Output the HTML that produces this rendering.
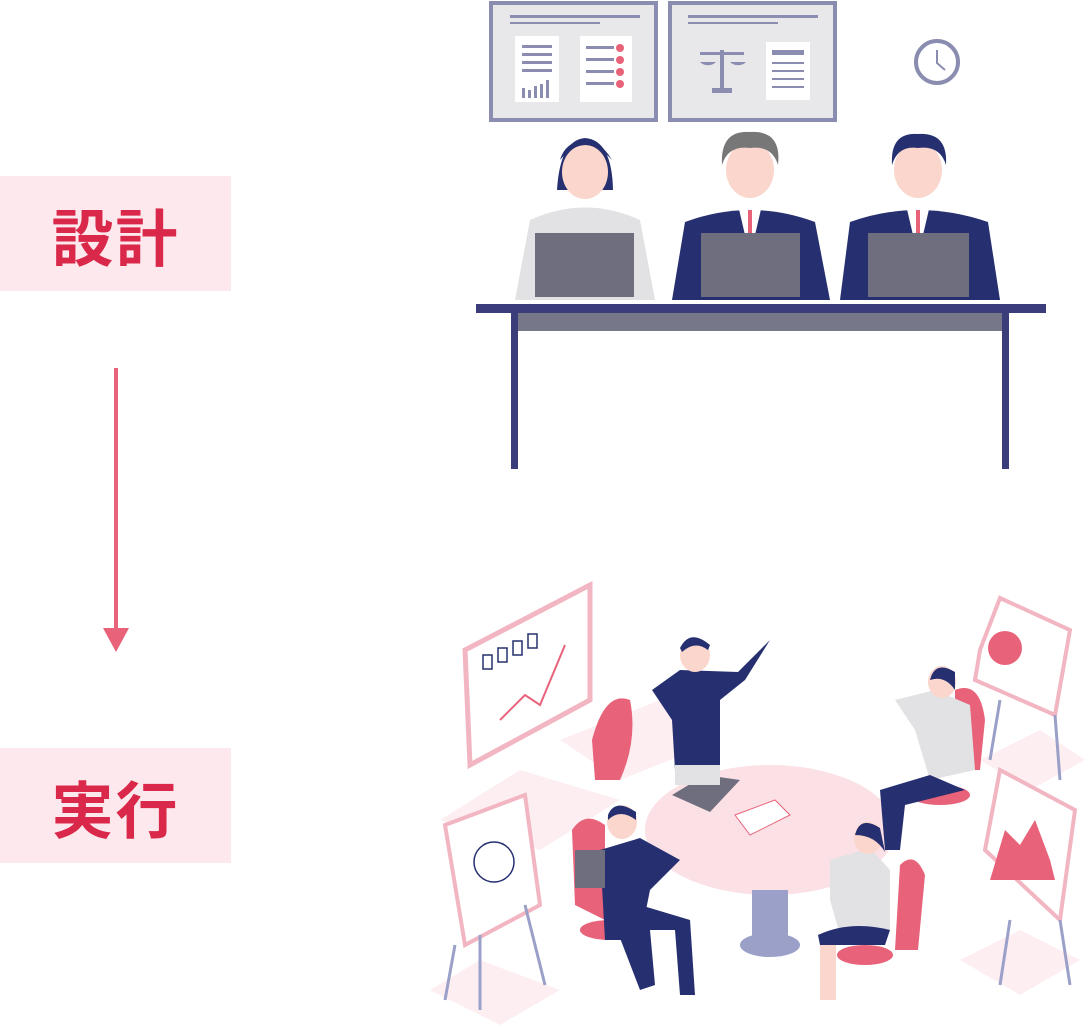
<!DOCTYPE html>
<html><head><meta charset="utf-8"><style>
html,body{margin:0;padding:0;background:#fff;width:1088px;height:1030px;overflow:hidden;position:relative}
.lab{position:absolute;left:0;width:231px;height:115px;background:#fde9ed;color:#d9284a;font:bold 62px "Liberation Sans","Noto Sans CJK JP",sans-serif;display:flex;align-items:center;justify-content:center;letter-spacing:2px}
svg{position:absolute;left:0;top:0}
</style></head><body>
<div class="lab" style="top:176px">設計</div>
<div class="lab" style="top:748px">実行</div>
<svg width="1088" height="1030" viewBox="0 0 1088 1030">
<!-- arrow -->
<rect x="114" y="368" width="4" height="264" fill="#e8627a"/>
<polygon points="103,628 129,628 116,652" fill="#e8627a"/>
<!-- boards -->
<rect x="491" y="3" width="165" height="117" fill="#e8e8ea" stroke="#8a8cb0" stroke-width="4"/>
<rect x="670" y="3" width="165" height="117" fill="#e8e8ea" stroke="#8a8cb0" stroke-width="4"/>
<rect x="510" y="15" width="130" height="3" fill="#8a8cb0"/><rect x="510" y="22" width="90" height="2" fill="#8a8cb0"/>
<rect x="688" y="15" width="130" height="3" fill="#8a8cb0"/><rect x="688" y="22" width="90" height="2" fill="#8a8cb0"/>
<rect x="515" y="36" width="44" height="66" fill="#fff"/><rect x="580" y="36" width="52" height="66" fill="#fff"/>
<rect x="766" y="42" width="44" height="58" fill="#fff"/>
<g fill="#8a8cb0"><rect x="522" y="45" width="30" height="3"/><rect x="522" y="53" width="30" height="3"/><rect x="522" y="61" width="30" height="3"/><rect x="522" y="69" width="30" height="3"/>
<rect x="522" y="88" width="3" height="10"/><rect x="528" y="90" width="3" height="8"/><rect x="534" y="86" width="3" height="12"/><rect x="540" y="84" width="3" height="14"/><rect x="546" y="80" width="3" height="18"/>
<rect x="586" y="46" width="28" height="3"/><rect x="586" y="58" width="28" height="3"/><rect x="586" y="70" width="28" height="3"/><rect x="586" y="82" width="28" height="3"/>
<rect x="772" y="50" width="32" height="5"/><rect x="772" y="62" width="32" height="2"/><rect x="772" y="70" width="32" height="2"/><rect x="772" y="78" width="32" height="2"/><rect x="772" y="86" width="32" height="2"/>
<rect x="712" y="88" width="20" height="5"/><rect x="720" y="50" width="4" height="40"/><rect x="700" y="52" width="44" height="3"/></g>
<g fill="#e8627a"><circle cx="620" cy="48" r="4"/><circle cx="620" cy="60" r="4"/><circle cx="620" cy="72" r="4"/><circle cx="620" cy="84" r="4"/></g>
<path d="M700 62 a10 8 0 0 0 16 0zM730 62 a10 8 0 0 0 16 0z" fill="#8a8cb0"/>
<circle cx="937" cy="62" r="21" fill="#fff" stroke="#8a8cb0" stroke-width="4"/>
<path d="M937 50 V63 L945 70" stroke="#8a8cb0" stroke-width="2" fill="none"/>
<!-- people top -->
<g>
<path d="M515 300 L530 220 Q585 195 640 220 L655 300Z" fill="#e2e2e4"/>
<path d="M557 190 Q560 140 585 138 Q612 140 613 190Z" fill="#263070"/>
<ellipse cx="585" cy="172" rx="23" ry="27" fill="#fbd6cc"/>
<path d="M560 160 Q585 130 612 160 Q600 140 585 140 Q565 142 560 160Z" fill="#263070"/>
<path d="M672 300 L685 222 Q750 198 815 222 L830 300Z" fill="#263070"/>
<polygon points="738,205 762,205 755,235 745,235" fill="#fff"/><rect x="748" y="210" width="4" height="25" fill="#e8627a"/>
<ellipse cx="750" cy="170" rx="24" ry="28" fill="#fbd6cc"/>
<path d="M722 165 Q720 130 750 132 Q782 130 778 165 Q772 145 750 148 Q728 145 722 165Z" fill="#777"/>
<path d="M840 300 L850 222 Q918 198 988 222 L1000 300Z" fill="#263070"/>
<polygon points="906,205 930,205 923,235 913,235" fill="#fff"/><rect x="916" y="210" width="4" height="25" fill="#e8627a"/>
<ellipse cx="918" cy="170" rx="24" ry="28" fill="#fbd6cc"/>
<path d="M892 165 Q890 132 918 134 Q948 132 946 165 Q940 145 918 148 Q898 145 892 165Z" fill="#263070"/>
<rect x="535" y="233" width="99" height="64" fill="#6e6e7e"/>
<rect x="701" y="233" width="99" height="64" fill="#6e6e7e"/>
<rect x="868" y="233" width="101" height="64" fill="#6e6e7e"/>
</g>
<rect x="476" y="304" width="570" height="9" fill="#3a3d7a"/>
<rect x="516" y="313" width="489" height="18" fill="#77778a"/>
<rect x="511" y="313" width="7" height="156" fill="#3a3d7a"/>
<rect x="1002" y="313" width="7" height="156" fill="#3a3d7a"/>
<!-- bottom scene -->
<g opacity="0.6" fill="#fbe3e8">
<polygon points="440,820 520,770 620,800 540,850"/>
<polygon points="560,740 660,700 720,740 620,780"/>
<polygon points="430,990 480,960 560,990 500,1025"/>
<polygon points="960,960 1020,930 1080,960 1020,995"/>
<polygon points="980,760 1040,730 1085,760 1030,790"/>
</g>
<polygon points="465,650 590,585 590,700 470,765" fill="#fff" stroke="#f2b6c2" stroke-width="5"/>
<g fill="none" stroke="#e8627a" stroke-width="2"><path d="M500 720 L525 695 L540 705 L565 645"/></g>
<g fill="none" stroke="#263070" stroke-width="1.5"><rect x="483" y="655" width="9" height="14"/><rect x="498" y="648" width="9" height="14"/><rect x="513" y="641" width="9" height="14"/><rect x="528" y="634" width="9" height="14"/></g>
<polygon points="445,825 525,795 540,905 465,945" fill="#fff" stroke="#f2b6c2" stroke-width="4"/>
<circle cx="494" cy="862" r="20" fill="none" stroke="#263070" stroke-width="1.5"/>
<path d="M455 945 L445 1000 M525 905 L545 985 M480 935 L480 1010" stroke="#9aa0c8" stroke-width="3"/>
<polygon points="980,650 1000,598 1070,630 1055,715 975,680" fill="#fff" stroke="#f2b6c2" stroke-width="4"/>
<circle cx="1005" cy="648" r="17" fill="#e8627a"/>
<polygon points="985,850 1000,770 1075,810 1060,920" fill="#fff" stroke="#f2b6c2" stroke-width="4"/>
<polygon points="990,880 1005,830 1020,845 1035,820 1050,860 1055,880" fill="#e8627a"/>
<path d="M1000 700 L990 760 M1055 715 L1060 780 M1010 920 L1000 985 M1060 920 L1070 985" stroke="#9aa0c8" stroke-width="3"/>
<!-- table -->
<ellipse cx="770" cy="830" rx="125" ry="65" fill="#fbe0e5"/>
<rect x="752" y="890" width="36" height="55" fill="#9aa0c8"/>
<ellipse cx="770" cy="945" rx="30" ry="12" fill="#9aa0c8"/>
<polygon points="672,795 705,775 740,780 710,812" fill="#6e6e7e"/>
<polygon points="735,815 775,800 790,815 750,835" fill="#fff" stroke="#e8627a"/>
<!-- chairs -->
<path d="M592 740 Q605 690 630 700 Q638 740 620 780 L595 780Z" fill="#e8627a"/>
<path d="M955 690 Q980 680 985 720 L980 770 L955 770Z" fill="#e8627a"/>
<ellipse cx="940" cy="795" rx="30" ry="10" fill="#e8627a"/>
<path d="M572 830 Q585 810 605 825 L605 920 L575 905Z" fill="#e8627a"/>
<ellipse cx="610" cy="930" rx="30" ry="10" fill="#e8627a"/>
<path d="M900 865 Q915 850 925 875 L918 950 L895 950Z" fill="#e8627a"/>
<ellipse cx="865" cy="955" rx="28" ry="10" fill="#e8627a"/>
<!-- people bottom -->
<path d="M652 690 L680 670 L738 672 L760 650 L770 640 L745 680 L720 700 L720 770 L675 770 L672 720Z" fill="#263070"/>
<rect x="675" y="765" width="45" height="20" fill="#e2e2e4"/>
<ellipse cx="695" cy="655" rx="15" ry="17" fill="#fbd6cc"/>
<path d="M680 648 Q690 628 710 645 L708 650 Q695 640 682 652Z" fill="#263070"/>
<path d="M895 700 L935 690 L970 705 L975 770 L930 780 L915 730Z" fill="#e2e2e4"/>
<path d="M930 775 L880 790 L885 850 L900 850 L905 805 L965 790Z" fill="#263070"/>
<ellipse cx="942" cy="682" rx="14" ry="16" fill="#fbd6cc"/>
<path d="M930 680 Q935 660 955 672 L955 690 Q945 675 930 680Z" fill="#263070"/>
<path d="M600 850 L640 838 L680 860 L650 890 L640 940 L605 940Z" fill="#263070"/>
<path d="M615 925 L640 990 L655 985 L650 930 L675 930 L680 995 L695 995 L690 920 L640 905Z" fill="#263070"/>
<rect x="575" y="850" width="30" height="38" fill="#6e6e7e"/>
<ellipse cx="622" cy="822" rx="15" ry="17" fill="#fbd6cc"/>
<path d="M608 815 Q615 798 636 812 L636 820 Q620 808 608 820Z" fill="#263070"/>
<path d="M830 860 L870 848 L890 870 L890 930 L840 935 L830 900Z" fill="#e2e2e4"/>
<path d="M818 935 Q850 920 890 930 L885 945 L820 945Z" fill="#263070"/>
<rect x="820" y="945" width="16" height="55" fill="#fbd6cc"/>
<ellipse cx="868" cy="838" rx="14" ry="16" fill="#fbd6cc"/>
<path d="M855 835 Q860 815 880 828 L885 852 Q875 835 855 835Z" fill="#263070"/>
</svg>
</body></html>
